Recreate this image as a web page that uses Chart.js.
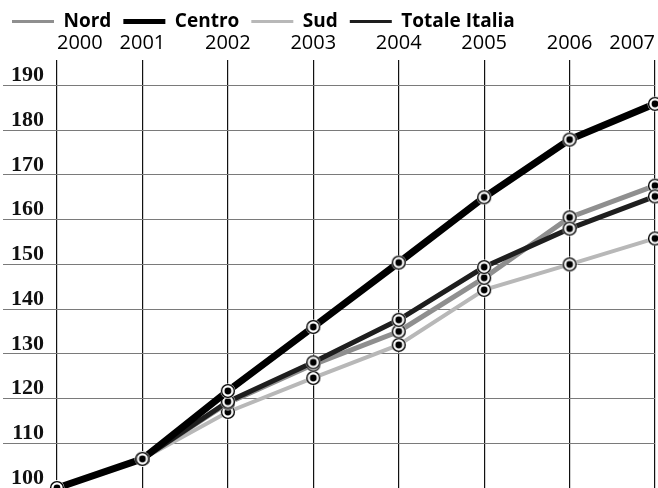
<!DOCTYPE html>
<html>
<head>
<meta charset="utf-8">
<script src="https://cdn.jsdelivr.net/npm/chart.js@4"></script>
<style>
  body { margin: 0; background: #fff; }
</style>
</head>
<body>
<canvas id="grafico" width="658" height="488"></canvas>
<script>
const years = ['2000', '2001', '2002', '2003', '2004', '2005', '2006', '2007'];
const nord   = [100, 106.5, 119.0, 127.6, 135.0, 147.0, 160.5, 167.6];
const centro = [100, 106.5, 121.7, 136.0, 150.4, 165.0, 177.9, 185.9];
const sud    = [100, 106.5, 117.0, 124.6, 132.0, 144.3, 150.0, 155.8];
const totale = [100, 106.5, 119.3, 128.1, 137.6, 149.4, 158.0, 165.2];
const yTicks = [100, 110, 120, 130, 140, 150, 160, 170, 180, 190];

// marker: black dot inside a ring
const dot = document.createElement('canvas');
dot.width = 16;
dot.height = 16;
const d = dot.getContext('2d');
d.fillStyle = '#fff';
d.beginPath(); d.arc(8, 8, 7.5, 0, Math.PI * 2); d.fill();
d.strokeStyle = '#000';
d.lineWidth = 1.4;
d.beginPath(); d.arc(8, 8, 6.4, 0, Math.PI * 2); d.stroke();
d.fillStyle = '#000';
d.beginPath(); d.arc(8, 8, 3.4, 0, Math.PI * 2); d.fill();

const legendWidth = [3, 5, 3, 3];

function serie(label, values, color, width, order) {
    return {
        label: label,
        data: values,
        borderColor: color,
        backgroundColor: color,
        borderWidth: width,
        pointStyle: dot,
        pointRadius: 8,
        tension: 0,
        clip: false,
        order: order
    };
}

const data = {
    labels: years,
    datasets: [
        serie('Nord', nord, '#8f8f8f', 5, 2),
        serie('Centro', centro, '#000', 7, 0),
        serie('Sud', sud, '#b8b8b8', 4, 3),
        serie('Totale Italia', totale, '#1e1e1e', 5, 1)
    ]
};

const options = {
    responsive: false,
    animation: false,
    layout: { autoPadding: false, padding: { top: 0, left: 0, right: 3, bottom: 0 } },
    plugins: {
        tooltip: { enabled: false },
        legend: {
            position: 'top',
            align: 'start',
            maxHeight: 31,
            labels: {
                usePointStyle: true,
                pointStyleWidth: 42,
                padding: 12,
                color: '#000',
                font: { family: 'Open Sans', size: 19, weight: 'bold' },
                generateLabels: (chart) => chart.data.datasets.map((ds, i) => ({
                    text: ds.label,
                    fillStyle: ds.borderColor,
                    strokeStyle: ds.borderColor,
                    lineWidth: legendWidth[i],
                    pointStyle: 'line',
                    hidden: false,
                    datasetIndex: i
                }))
            }
        }
    },
    scales: {
        x: {
            position: 'top',
            offset: false,
            afterFit: (s) => { s.height = 29; s.paddingLeft = 0; s.paddingRight = 0; },
            grid: { color: '#111', lineWidth: 1.2, drawTicks: false },
            border: { display: false },
            ticks: {
                color: '#000',
                font: { family: 'Open Sans', size: 20 },
                padding: 5,
                align: 'inner',
                maxRotation: 0,
                autoSkip: false
            }
        },
        y: {
            min: 100,
            max: 195.7,
            afterBuildTicks: (s) => { s.ticks = yTicks.map(v => ({ value: v })); },
            afterFit: (s) => { s.width = 57; s.paddingTop = 0; s.paddingBottom = 0; },
            grid: { color: '#7a7a7a', lineWidth: 1, drawTicks: true, tickLength: 54 },
            border: { display: false },
            ticks: {
                color: '#111',
                font: { family: 'Liberation Serif', size: 22, weight: 'bold' },
                padding: -41,
                labelOffset: -10
            }
        }
    }
};

const myChart = new Chart(document.getElementById('grafico'), {
    type: 'line',
    data: data,
    options: options
});
</script>
</body>
</html>
